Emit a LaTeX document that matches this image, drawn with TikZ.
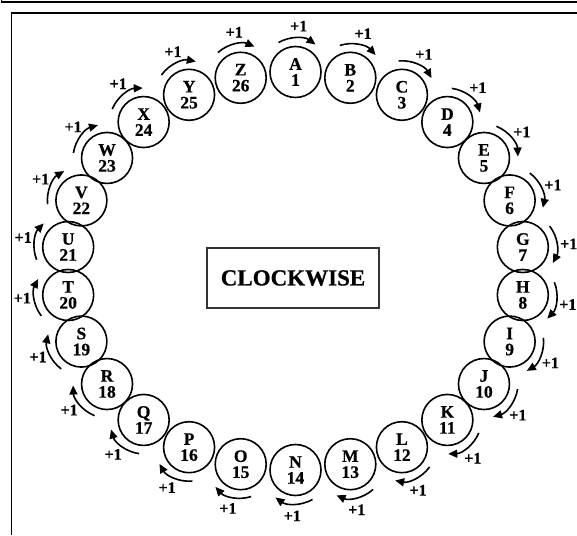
\documentclass[tikz,border=0pt]{standalone}
\usepackage{fontspec}
\setmainfont{Liberation Serif}[BoldFeatures={FakeBold=0.6}]
\usetikzlibrary{arrows.meta}
\tikzset{
  ring/.style={circle,draw,line width=1.6pt,minimum size=51pt,inner sep=0pt,align=center,
    font=\fontsize{17.5}{19}\selectfont\bfseries},
  arcarrow/.style={line width=1.6pt,-{Triangle[length=9pt,width=8pt]}},
  plusone/.style={font=\fontsize{16}{18}\selectfont\bfseries,inner sep=0pt},
  framebox/.style={draw,line width=1.8pt,draw=black!80,minimum width=172pt,minimum height=60pt,
    font=\fontsize{23}{25}\selectfont\bfseries},
  frameline/.style={line width=1.8pt}
}
\begin{document}
\begin{tikzpicture}[x=1pt,y=1pt]
\useasboundingbox (0,0) rectangle (577,535);
\draw[frameline] (1.5,535) -- (1.5,533) -- (577,533);
\draw[frameline] (577,522) -- (11.5,522) -- (11.5,0);
\node[framebox] (cw) at (293,257) {CLOCKWISE};
\foreach \k/\L in {0/A,1/B,2/C,3/D,4/E,5/F,6/G,7/H,8/I,9/J,10/K,11/L,12/M,13/N,14/O,15/P,16/Q,17/R,18/S,19/T,20/U,21/V,22/W,23/X,24/Y,25/Z}{
  \pgfmathsetmacro{\t}{90-\k*360/26}
  \pgfmathsetmacro{\px}{295.5+229*cos(\t)}
  \pgfmathsetmacro{\py}{264+199*sin(\t)}
  \pgfmathsetmacro{\ph}{atan2(229*sin(\t),199*cos(\t))}
  \pgfmathsetmacro{\a}{\ph+30}
  \pgfmathsetmacro{\b}{\ph-36}
  \pgfmathsetmacro{\c}{\ph-4}
  \pgfmathtruncatemacro{\n}{\k+1}
  \node[ring] (n\k) at (\px,\py) {\L\\[-3pt]\n};
  \draw[arcarrow] ([shift={(\a:34)}]n\k.center) arc[start angle=\a,end angle=\b,radius=34];
  \node[plusone] (p\k) at ([shift={(\c:46)}]n\k.center) {+1};
}
\end{tikzpicture}
\end{document}
